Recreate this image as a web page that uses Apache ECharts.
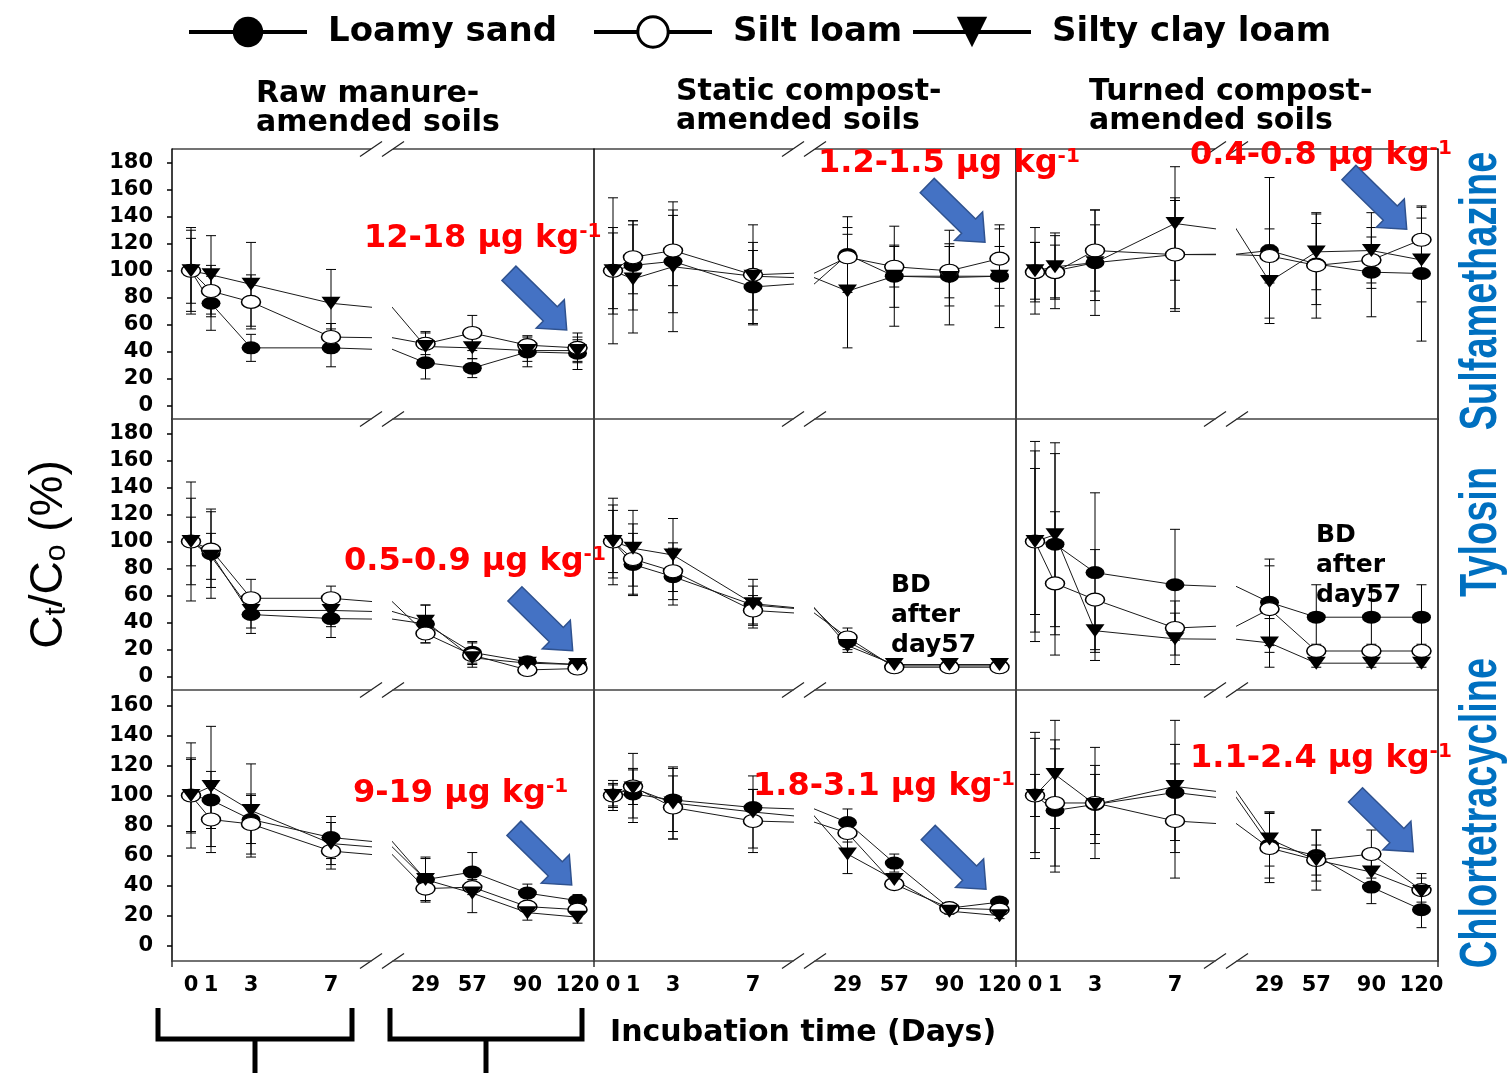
<!DOCTYPE html>
<html>
<head>
<meta charset="utf-8">
<script src="https://cdn.jsdelivr.net/npm/echarts@6/dist/echarts.min.js"></script>
<style>
  html, body { margin: 0; padding: 0; background: #fff; }
  #chart { width: 1508px; height: 1073px; }
</style>
</head>
<body>
<div id="chart"></div>
<script>
// ---- sampling schedule and labels ----
const days = [0, 1, 3, 7, 29, 57, 90, 120];
const earlyDays = [0, 1, 3, 7];
const lateDays = [29, 57, 90, 120];
const soils = ['Loamy sand', 'Silt loam', 'Silty clay loam'];
const amendments = ['Raw manure-\namended soils', 'Static compost-\namended soils', 'Turned compost-\namended soils'];
const antibiotics = ['Sulfamethazine', 'Tylosin', 'Chlortetracycline'];
const yTicksTall = [0, 20, 40, 60, 80, 100, 120, 140, 160, 180];
const yTicksShort = [0, 20, 40, 60, 80, 100, 120, 140, 160];
const residueRanges = ['12-18', '1.2-1.5', '0.4-0.8', '0.5-0.9', '', '', '9-19', '1.8-3.1', '1.1-2.4'];

// ---- Ct/C0 (%) means and error bars ----
// Sulfamethazine
const smzRawLoamy = [100, 76, 43, 43, 32, 28, 40, 39];
const smzRawLoamyErr = [30, 20, 10, 14, 12, 7, 11, 12];
const smzRawSilt = [100, 85, 77, 51, 46, 54, 45, 43];
const smzRawSiltErr = [24, 19, 20, 10, 8, 13, 7, 11];
const smzRawClay = [100, 97, 90, 76, 44, 43, 41, 41];
const smzRawClayErr = [32, 29, 31, 25, 11, 8, 8, 8];
const smzStaticLoamy = [100, 104, 107, 88, 112, 96, 96, 96];
const smzStaticLoamyErr = [32, 33, 38, 27, 28, 37, 22, 38];
const smzStaticSilt = [100, 110, 115, 97, 110, 103, 100, 109];
const smzStaticSiltErr = [28, 27, 26, 37, 22, 15, 20, 22];
const smzStaticClay = [100, 94, 103, 96, 85, 96, 95, 96];
const smzStaticClayErr = [54, 40, 48, 25, 42, 23, 35, 22];
const smzTurnedLoamy = [100, 100, 106, 112, 115, 105, 99, 98];
const smzTurnedLoamyErr = [32, 28, 28, 42, 54, 30, 33, 50];
const smzTurnedSilt = [99, 99, 115, 112, 111, 104, 108, 123];
const smzTurnedSiltErr = [22, 20, 30, 40, 20, 39, 17, 24];
const smzTurnedClay = [100, 103, 106, 135, 92, 114, 115, 108];
const smzTurnedClayErr = [21, 23, 39, 42, 27, 28, 28, 31];
// Tylosin
const tylRawLoamy = [100, 91, 46, 43, 39, 18, 11, 9];
const tylRawLoamyErr = [18, 33, 14, 14, 14, 8, 3, 2];
const tylRawSilt = [100, 94, 58, 58, 32, 16, 5, 6];
const tylRawSiltErr = [32, 28, 14, 9, 7, 9, 2, 2];
const tylRawClay = [100, 89, 49, 49, 41, 14, 10, 9];
const tylRawClayErr = [44, 17, 13, 12, 12, 5, 2, 2];
const tylStaticLoamy = [100, 83, 74, 53, 26, 8, 8, 8];
const tylStaticLoamyErr = [27, 23, 21, 14, 6, 2, 1, 1];
const tylStaticSilt = [100, 87, 78, 49, 29, 7, 7, 7];
const tylStaticSiltErr = [23, 26, 21, 11, 7, 2, 1, 1];
const tylStaticClay = [100, 95, 90, 54, 23, 9, 9, 9];
const tylStaticClayErr = [32, 28, 27, 18, 5, 2, 1, 1];
const tylTurnedLoamy = [100, 98, 77, 68, 55, 44, 44, 44];
const tylTurnedLoamyErr = [54, 67, 59, 41, 32, 24, 24, 24];
const tylTurnedSilt = [100, 69, 57, 36, 50, 19, 19, 19];
const tylTurnedSiltErr = [67, 53, 37, 20, 32, 5, 5, 5];
const tylTurnedClay = [100, 105, 34, 28, 25, 10, 10, 10];
const tylTurnedClayErr = [74, 68, 22, 19, 18, 3, 3, 3];
// Chlortetracycline
const ctcRawLoamy = [100, 97, 84, 72, 44, 49, 35, 30];
const ctcRawLoamyErr = [25, 19, 16, 14, 14, 13, 6, 4];
const ctcRawSilt = [100, 84, 81, 63, 38, 39, 26, 24];
const ctcRawSiltErr = [24, 22, 20, 12, 8, 5, 3, 3];
const ctcRawClay = [100, 106, 90, 68, 44, 35, 22, 19];
const ctcRawClayErr = [35, 40, 31, 14, 15, 13, 5, 4];
const ctcStaticLoamy = [100, 101, 97, 92, 82, 55, 25, 29];
const ctcStaticLoamyErr = [7, 16, 21, 12, 9, 6, 2, 2];
const ctcStaticSilt = [100, 106, 92, 83, 75, 41, 25, 24];
const ctcStaticSiltErr = [10, 12, 21, 21, 6, 3, 2, 2];
const ctcStaticClay = [100, 105, 95, 89, 61, 44, 23, 20];
const ctcStaticClayErr = [8, 23, 24, 24, 13, 4, 2, 2];
const ctcTurnedLoamy = [100, 90, 94, 102, 67, 60, 39, 24];
const ctcTurnedLoamyErr = [42, 41, 26, 32, 22, 17, 11, 12];
const ctcTurnedSilt = [100, 95, 95, 83, 65, 57, 61, 37];
const ctcTurnedSiltErr = [38, 42, 37, 38, 23, 10, 16, 8];
const ctcTurnedClay = [100, 114, 94, 106, 71, 57, 49, 36];
const ctcTurnedClayErr = [14, 36, 20, 44, 18, 20, 9, 12];

// panel index = row * 3 + col; each entry lists [means, errors] per soil
const panels = [
  [[smzRawLoamy, smzRawLoamyErr], [smzRawSilt, smzRawSiltErr], [smzRawClay, smzRawClayErr]],
  [[smzStaticLoamy, smzStaticLoamyErr], [smzStaticSilt, smzStaticSiltErr], [smzStaticClay, smzStaticClayErr]],
  [[smzTurnedLoamy, smzTurnedLoamyErr], [smzTurnedSilt, smzTurnedSiltErr], [smzTurnedClay, smzTurnedClayErr]],
  [[tylRawLoamy, tylRawLoamyErr], [tylRawSilt, tylRawSiltErr], [tylRawClay, tylRawClayErr]],
  [[tylStaticLoamy, tylStaticLoamyErr], [tylStaticSilt, tylStaticSiltErr], [tylStaticClay, tylStaticClayErr]],
  [[tylTurnedLoamy, tylTurnedLoamyErr], [tylTurnedSilt, tylTurnedSiltErr], [tylTurnedClay, tylTurnedClayErr]],
  [[ctcRawLoamy, ctcRawLoamyErr], [ctcRawSilt, ctcRawSiltErr], [ctcRawClay, ctcRawClayErr]],
  [[ctcStaticLoamy, ctcStaticLoamyErr], [ctcStaticSilt, ctcStaticSiltErr], [ctcStaticClay, ctcStaticClayErr]],
  [[ctcTurnedLoamy, ctcTurnedLoamyErr], [ctcTurnedSilt, ctcTurnedSiltErr], [ctcTurnedClay, ctcTurnedClayErr]]
];

// ---- layout ----
const colLeft = [172, 594, 1016];
const panelW = 422;
const earlyW = 199;          // early-days segment width
const lateOffset = 221;      // late segment starts after the axis break
const lateW = panelW - lateOffset;
const rowTop = [149, 419, 690];
const rowH = [270, 271, 271];
const yMin = [-9.62, -9.84, -10.19];
const yMax = [190.1, 190.6, 170.2];
const earlyRange = [-0.95, 9.0];
const lateRange = [9.54, 129.88];

const BOLD = '"DejaVu Sans", sans-serif';
const symbols = ['circle', 'circle', 'path://M0,0L20,0L10,16Z'];
const fills = ['#000', '#fff', '#000'];

function renderErrorBar(params, api) {
  const x = api.value(0);
  const lo = api.coord([x, api.value(1)]);
  const hi = api.coord([x, api.value(2)]);
  const half = 5;
  const style = { stroke: '#000', lineWidth: 1 };
  return {
    type: 'group',
    children: [
      { type: 'line', shape: { x1: lo[0], y1: lo[1], x2: hi[0], y2: hi[1] }, style },
      { type: 'line', shape: { x1: lo[0] - half, y1: lo[1], x2: lo[0] + half, y2: lo[1] }, style },
      { type: 'line', shape: { x1: hi[0] - half, y1: hi[1], x2: hi[0] + half, y2: hi[1] }, style }
    ]
  };
}

const grids = [], xAxes = [], yAxes = [], series = [];

for (let r = 0; r < 3; r++) {
  for (let c = 0; c < 3; c++) {
    const L = colLeft[c];
    const panel = panels[r * 3 + c];
    for (let s = 0; s < 2; s++) {
      const g = grids.length;
      const late = s === 1;
      const segDays = late ? lateDays : earlyDays;
      const range = late ? lateRange : earlyRange;
      grids.push({
        left: late ? L + lateOffset : L,
        top: rowTop[r],
        width: late ? lateW : earlyW,
        height: rowH[r],
        containLabel: false,
        outerBoundsMode: 'none'
      });
      const bottomRow = r === 2;
      let edgeTicks = [];
      if (!late) edgeTicks = [range[0]];
      if (late && c === 2) edgeTicks = [range[1]];
      xAxes.push({
        type: 'value', gridIndex: g, min: range[0], max: range[1],
        axisLine: { show: true, onZero: false, lineStyle: { color: '#444', width: 1.5 } },
        axisTick: { show: bottomRow && edgeTicks.length > 0, customValues: edgeTicks, length: 6,
          lineStyle: { color: '#333', width: 1.5 } },
        axisLabel: { show: bottomRow, customValues: segDays, margin: 14,
          fontFamily: BOLD, fontWeight: 'bold', fontSize: 21, color: '#000' },
        splitLine: { show: false }
      });
      const firstCol = c === 0 && !late;
      const yAxis = {
        type: 'value', gridIndex: g, min: yMin[r], max: yMax[r],
        position: (late && c === 2) ? 'right' : 'left',
        axisLine: { show: !late || c === 2, onZero: false, lineStyle: { color: '#000', width: 1.5 } },
        axisTick: { show: firstCol, customValues: r === 2 ? yTicksShort : yTicksTall, length: 5,
          lineStyle: { color: '#000', width: 1.5 } },
        axisLabel: { show: firstCol, customValues: r === 2 ? yTicksShort : yTicksTall, margin: 19,
          fontFamily: BOLD, fontWeight: 'bold', fontSize: 21, color: '#000' },
        splitLine: { show: false }
      };
      if (firstCol && r === 1) {
        yAxis.name = '{m|C}{s|t}{m|/C}{s|o}{m| (%)}';
        yAxis.nameLocation = 'middle';
        yAxis.nameRotate = 90;
        yAxis.nameGap = 100;
        yAxis.nameTextStyle = {
          rich: {
            m: { fontFamily: '"Liberation Sans", Arial, sans-serif', fontSize: 46, color: '#000' },
            s: { fontFamily: '"Liberation Sans", Arial, sans-serif', fontSize: 30, color: '#000',
                 verticalAlign: 'bottom', lineHeight: 16 }
          }
        };
      }
      yAxes.push(yAxis);

      panel.forEach(([vals, errs], k) => {
        // error bars for the points that fall in this segment
        series.push({
          type: 'custom', xAxisIndex: g, yAxisIndex: g, clip: true, silent: true, z: 1,
          renderItem: renderErrorBar,
          encode: { x: 0, y: [1, 2] },
          data: segDays.map(d => {
            const i = days.indexOf(d);
            return [d, vals[i] - errs[i], vals[i] + errs[i]];
          })
        });
      });
      panel.forEach(([vals], k) => {
        // full series in every segment; the grid clips it at the axis break
        series.push({
          type: 'line', name: soils[k], xAxisIndex: g, yAxisIndex: g, z: 2,
          clip: true, showSymbol: true, showAllSymbol: true,
          symbol: symbols[k], symbolSize: [19, 13],
          itemStyle: { color: fills[k], borderColor: '#000', borderWidth: k === 1 ? 1.3 : 0 },
          lineStyle: { color: '#1a1a1a', width: 1 },
          emphasis: { disabled: true },
          data: days.map((d, i) => [d, vals[i]])
        });
      });
    }
  }
}

// ---- decorations: borders, axis breaks, titles, notes ----
const graphics = [];
const lineCol = '#444';
colLeft.forEach(L => {
  graphics.push({ type: 'line', shape: { x1: L, y1: 149, x2: L + earlyW, y2: 149 },
    style: { stroke: lineCol, lineWidth: 1.5 }, silent: true });
  graphics.push({ type: 'line', shape: { x1: L + lateOffset, y1: 149, x2: L + panelW, y2: 149 },
    style: { stroke: lineCol, lineWidth: 1.5 }, silent: true });
  [149, 419, 690, 961].forEach(y => {
    graphics.push({ type: 'line', shape: { x1: L + 188, y1: y + 7.5, x2: L + 210, y2: y - 7.5 },
      style: { stroke: '#222', lineWidth: 1.3 }, silent: true });
    graphics.push({ type: 'line', shape: { x1: L + 210, y1: y + 7.5, x2: L + 232, y2: y - 7.5 },
      style: { stroke: '#222', lineWidth: 1.3 }, silent: true });
  });
});

// column headings
const headingX = [256, 676, 1089];
const headingY = [80, 78, 78];
amendments.forEach((t, c) => {
  graphics.push({ type: 'text', x: headingX[c], y: headingY[c], silent: true,
    style: { text: t, font: 'bold 30px ' + BOLD, fill: '#000', lineHeight: 29,
      align: 'left', verticalAlign: 'top' } });
});

// antibiotic names on the right
const sideY = [291, 532, 813];
antibiotics.forEach((t, r) => {
  graphics.push({ type: 'text', x: 1482, y: sideY[r], rotation: Math.PI / 2, scaleY: 1.36, silent: true,
    style: { text: t, font: 'bold 38px "Liberation Sans", Arial, sans-serif', fill: '#0070C0',
      align: 'center', verticalAlign: 'middle' } });
});

// detection-limit notes and arrows
const notePos = [[364, 239], [818, 164], [1190, 156], [344, 562], null, null, [353, 794], [753, 787], [1190, 759]];
const arrowTips = [[566.7, 330], [985, 242.3], [1406.7, 229.3], [572.7, 650.7], null, null, [571.7, 885], [986, 889.3], [1413.3, 851.7]];
function arrowShape(tip) {
  const dx = 57, dy = 56, len = Math.hypot(dx, dy);
  const ux = dx / len, uy = dy / len, nx = -uy, ny = ux;
  const total = 81, headLen = 23, shaft = 10, head = 20;
  const tx = tip[0] - ux * total, ty = tip[1] - uy * total;
  const bx = tip[0] - ux * headLen, by = tip[1] - uy * headLen;
  return [
    [tx + nx * shaft, ty + ny * shaft], [bx + nx * shaft, by + ny * shaft], [bx + nx * head, by + ny * head],
    tip, [bx - nx * head, by - ny * head], [bx - nx * shaft, by - ny * shaft], [tx - nx * shaft, ty - ny * shaft]
  ];
}
residueRanges.forEach((rng, p) => {
  if (!rng) return;
  graphics.push({ type: 'text', x: notePos[p][0], y: notePos[p][1], z: 20, silent: true,
    style: { text: '{v|' + rng + ' \u03bcg kg}{s|-1}', align: 'left', verticalAlign: 'middle',
      rich: {
        v: { font: 'bold 32px ' + BOLD, fill: '#ff0000', lineHeight: 35 },
        s: { font: 'bold 20px ' + BOLD, fill: '#ff0000', lineHeight: 20, verticalAlign: 'top' }
      } } });
  graphics.push({ type: 'polygon', z: 20, silent: true, shape: { points: arrowShape(arrowTips[p]) },
    style: { fill: '#4472C4', stroke: '#2F528F', lineWidth: 1.5 } });
});
[[891, 570], [1316, 520]].forEach(([x, y]) => {
  graphics.push({ type: 'text', x, y, z: 20, silent: true,
    style: { text: 'BD\nafter\nday57', font: 'bold 25px ' + BOLD, fill: '#000', lineHeight: 30,
      align: 'left', verticalAlign: 'top' } });
});

// x axis title and brackets grouping the two time segments
graphics.push({ type: 'text', x: 610, y: 1033, silent: true,
  style: { text: 'Incubation time (Days)', font: 'bold 30px ' + BOLD, fill: '#000',
    align: 'left', verticalAlign: 'middle' } });
[[158, 352, 255], [390, 582, 486]].forEach(([a, b, m]) => {
  graphics.push({ type: 'polyline', silent: true, shape: { points: [[a, 1008], [a, 1039], [b, 1039], [b, 1008]] },
    style: { stroke: '#000', lineWidth: 5, fill: null } });
  graphics.push({ type: 'line', silent: true, shape: { x1: m, y1: 1039, x2: m, y2: 1073 },
    style: { stroke: '#000', lineWidth: 5 } });
});

// ---- legend: one component per soil so each entry sits where it should ----
const legendLeft = [187, 592, 911];
const legends = soils.map((name, k) => ({
  data: [name], left: legendLeft[k], top: 15, orient: 'horizontal', padding: 0,
  itemWidth: 118, itemHeight: 38, selectedMode: false,
  lineStyle: { width: 4, color: '#000' },
  itemStyle: k === 1 ? { borderWidth: 3, borderColor: '#000' } : {},
  textStyle: { fontFamily: BOLD, fontWeight: 'bold', fontSize: 34, color: '#000', padding: [0, 0, 0, 16] }
}));

const chart = echarts.init(document.getElementById('chart'), null, { renderer: 'canvas', width: 1508, height: 1073 });
chart.setOption({
  animation: false,
  backgroundColor: '#fff',
  legend: legends,
  grid: grids,
  xAxis: xAxes,
  yAxis: yAxes,
  series: series,
  graphic: { elements: graphics }
});
</script>
</body>
</html>
